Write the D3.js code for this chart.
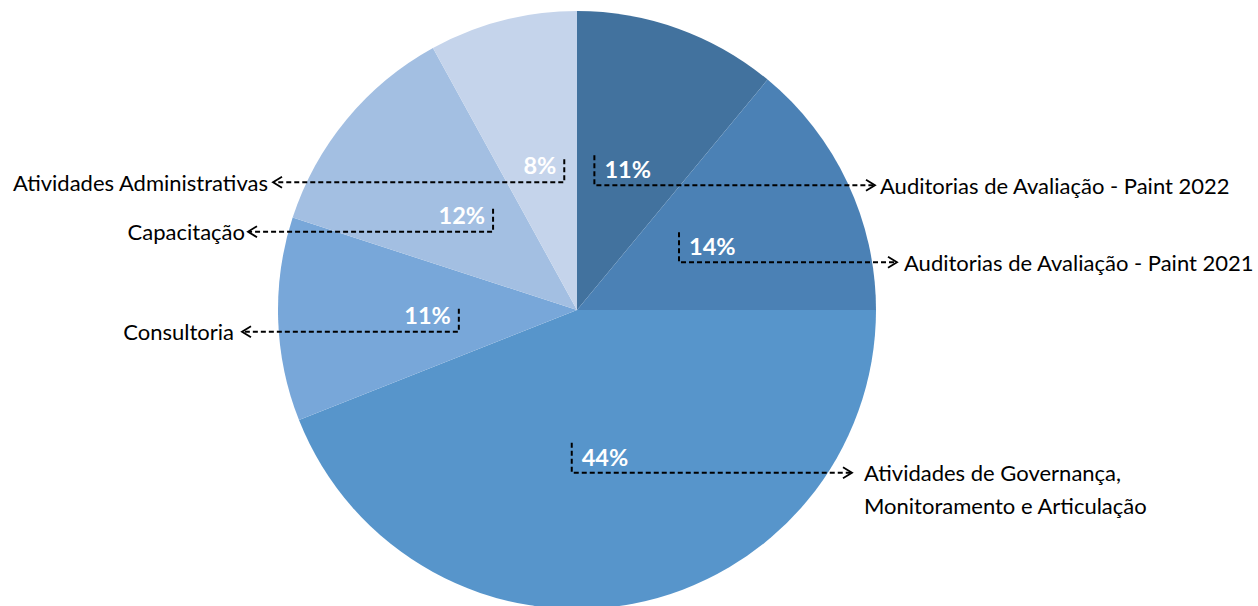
<!DOCTYPE html>
<html><head><meta charset="utf-8">
<script src="https://cdn.jsdelivr.net/npm/d3@7"></script>
<style>html,body{margin:0;padding:0;background:#fff;}svg{display:block;}</style>
</head><body>
<svg id="chart" width="1258" height="606"></svg>
<script>
const categories = [
  "Auditorias de Avaliação - Paint 2022",
  "Auditorias de Avaliação - Paint 2021",
  "Atividades de Governança, Monitoramento e Articulação",
  "Consultoria",
  "Capacitação",
  "Atividades Administrativas"
];
const values = [11, 14, 44, 11, 12, 8];
const labelLines = [
  ["Auditorias de Avaliação - Paint 2022"],
  ["Auditorias de Avaliação - Paint 2021"],
  ["Atividades de Governança,", "Monitoramento e Articulação"],
  ["Consultoria"],
  ["Capacitação"],
  ["Atividades Administrativas"]
];
const colors = ["#42729E", "#4B81B5", "#5795CB", "#78A7D9", "#A3BFE2", "#C5D4EB"];

// layout: arrow-tip x for each leader and gap to label text
const layout = [
  {tipX: 875, gap: 5},
  {tipX: 897, gap: 7},
  {tipX: 852, gap: 12},
  {tipX: 242, gap: 8},
  {tipX: 248, gap: 3},
  {tipX: 273, gap: 5}
];

const svg = d3.select("#chart");
const cx = 577, cy = 310, R = 299;
const g = svg.append("g").attr("transform", `translate(${cx},${cy})`);
const pie = d3.pie().sort(null).value(d => d)(values);
const arc = d3.arc().innerRadius(0).outerRadius(R);

g.selectAll("path.slice").data(pie).enter().append("path")
  .attr("class", "slice")
  .attr("d", arc)
  .attr("fill", (d, i) => colors[i]);

const font = "Lato, 'Open Sans', sans-serif";
const pct = d3.format(".0%");
const total = d3.sum(values);

pie.forEach((d, i) => {
  const [px, py] = arc.centroid(d);
  const right = px >= 0;
  const t = g.append("text")
    .attr("x", px).attr("y", py)
    .attr("text-anchor", "middle")
    .attr("dominant-baseline", "central")
    .attr("font-family", font)
    .attr("font-weight", "bold")
    .attr("font-size", 23.5)
    .attr("fill", "#fff")
    .text(pct(d.value / total));
  const w = t.node().getComputedTextLength();
  let vx, y0, y1;
  if (right) { vx = px - w / 2 - 10; y0 = py - 14; y1 = py + 16; }
  else { vx = px + w / 2 + 8; y0 = py - 6; y1 = py + 17; }
  const tip = layout[i].tipX - cx;
  const dir = right ? 1 : -1;
  g.append("path")
    .attr("d", `M${vx},${y0}V${y1}H${tip - dir * 1}`)
    .attr("fill", "none").attr("stroke", "#000")
    .attr("stroke-width", 2).attr("stroke-dasharray", "5,3");
  g.append("path")
    .attr("d", `M${tip - dir * 9},${y1 - 5.5}L${tip},${y1}L${tip - dir * 9},${y1 + 5.5}`)
    .attr("fill", "none").attr("stroke", "#000").attr("stroke-width", 1.8);
  const lines = labelLines[i];
  const lx = tip + dir * layout[i].gap;
  const lt = g.append("text")
    .attr("x", lx).attr("y", y1)
    .attr("text-anchor", right ? "start" : "end")
    .attr("font-family", font)
    .attr("font-size", 22)
    .attr("fill", "#000");
  lines.forEach((s, k) => {
    lt.append("tspan").attr("x", lx).attr("y", y1 + k * 33)
      .attr("dominant-baseline", "central").text(s);
  });
});
</script>
</body></html>
